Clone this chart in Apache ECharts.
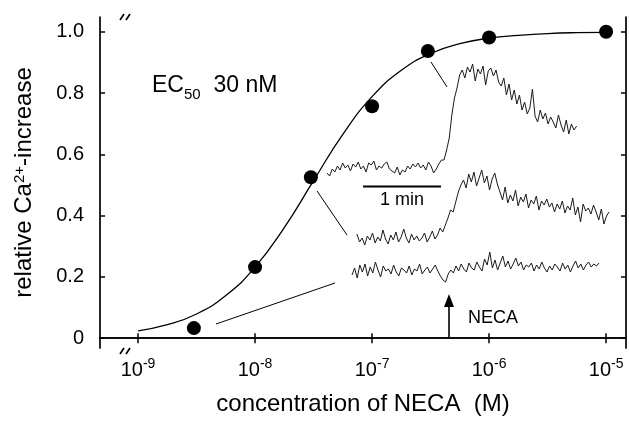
<!DOCTYPE html>
<html>
<head>
<meta charset="utf-8">
<script src="https://cdn.jsdelivr.net/npm/echarts@6/dist/echarts.min.js"></script>
<style>
  html, body { margin: 0; padding: 0; background: #fff; }
  #chart { width: 629px; height: 421px; }
</style>
</head>
<body>
<div id="chart"></div>
<script>
// dose-response points (M, relative Ca2+ increase)
const doseConc = [3e-9, 1e-8, 3e-8, 1e-7, 3e-7, 1e-6, 1e-5];
const doseResp = [0.033, 0.232, 0.525, 0.757, 0.937, 0.981, 1.0];

// fitted curve (log10 M, response)
const fitLogConc = [-9, -8.75, -8.5, -8.25, -8, -7.75, -7.5, -7.25, -7, -6.75, -6.5, -6.25, -6, -5.75, -5.5, -5.25, -5];
const fitResp = [0.024, 0.044, 0.079, 0.139, 0.232, 0.361, 0.514, 0.665, 0.788, 0.874, 0.929, 0.961, 0.979, 0.988, 0.994, 0.997, 0.998];

const xTickExps = [-9, -8, -7, -6, -5];
const yTicks = [0, 0.2, 0.4, 0.6, 0.8, 1.0];

// inset Ca2+ traces (fluorescence, a.u.), one sample every 2 s
const traceStep = 2;
const trace1Start = 20.8;
const trace1 = [127,124,131,128,134,130,137,132,135,129,136,133,138,131,134,128,137,135,139,130,
  134,132,136,138,131,129,127,133,125,130,128,134,131,136,133,137,132,135,130,138,134,127,131,136,140,
  140,150,162,185,202,212,225,
  230,222,233,228,236,219,231,226,234,215,229,232,224,230,218,
  214,222,205,216,200,210,196,205,190,198,186,192,211,184,178,190,181,187,176,183,178,172,185,175,168,180,166,176,170,174];
const trace2Start = 43.8;
const trace2 = [66,58,62,55,64,60,67,57,63,59,70,61,56,65,60,68,58,63,71,62,57,66,60,64,59,62,67,58,63,69,61,65,72,68,
  75,82,90,88,98,108,
  115,120,112,126,118,128,114,122,130,117,124,110,121,127,116,
  108,100,113,97,105,99,110,94,103,98,106,92,100,96,104,90,99,95,101,93,97,88,96,91,99,87,94,90,102,85,93,78,96,89,92,86,95,88,80,91,76,84,88];
const trace3Start = 40;
const trace3 = [25,32,22,35,28,36,24,33,27,38,30,23,34,29,31,26,35,28,24,32,30,27,34,25,31,29,36,26,30,33,27,31,35,29,24,
  20,18,26,
  30,27,34,29,36,31,28,37,32,30,38,33,29,41,35,
  48,32,40,30,37,44,33,39,31,36,42,34,38,30,35,
  33,37,29,35,31,38,32,28,34,30,36,33,29,37,31,35,28,34,39,32,36,30,35,38,33,36,34,37];
const scaleBarSeconds = 60;

const FONT = '"Liberation Sans", Arial, Helvetica, sans-serif';

function traceData(start, vals) {
  return vals.map((v, i) => [start + i * traceStep, v]);
}

const chart = echarts.init(document.getElementById('chart'), null, { renderer: 'canvas' });

const axisLineStyle = { color: '#000', width: 1.7 };
const tickStyle = { inside: true, length: 5, lineStyle: { color: '#000', width: 1.5 } };

const supRich = {
  b: { fontFamily: FONT, fontSize: 20, color: '#000', lineHeight: 23, padding: [3, 0, 0, 0], verticalAlign: 'bottom' },
  s: { fontFamily: FONT, fontSize: 14, color: '#000', lineHeight: 15, verticalAlign: 'top' }
};

const option = {
  backgroundColor: '#fff',
  animation: false,
  grid: [
    { left: 100, top: 17, width: 526, height: 334, show: false },
    { left: 300, top: 40, width: 325, height: 260, show: false }
  ],
  xAxis: [
    {
      gridIndex: 0, type: 'value', position: 'bottom',
      min: -9.325, max: -4.83,
      axisLine: { lineStyle: axisLineStyle },
      axisTick: Object.assign({ customValues: xTickExps }, tickStyle),
      axisLabel: {
        customValues: xTickExps, margin: 9,
        formatter: v => '{b|10}{s|' + v + '}',
        rich: supRich
      },
      splitLine: { show: false },
      name: 'concentration of NECA  (M)',
      nameLocation: 'middle', nameGap: 44,
      nameTextStyle: { fontFamily: FONT, fontSize: 24, color: '#000' }
    },
    {
      gridIndex: 0, type: 'value', position: 'top',
      min: -9.325, max: -4.83,
      axisLine: { lineStyle: axisLineStyle },
      axisTick: Object.assign({ customValues: xTickExps }, tickStyle),
      axisLabel: { show: false },
      splitLine: { show: false }
    },
    { gridIndex: 1, type: 'value', min: 0, max: 250, show: false }
  ],
  yAxis: [
    {
      gridIndex: 0, type: 'value', position: 'left',
      min: -0.032, max: 1.048,
      axisLine: { lineStyle: axisLineStyle },
      axisTick: Object.assign({ customValues: yTicks }, tickStyle),
      axisLabel: {
        customValues: yTicks, margin: 16,
        fontFamily: FONT, fontSize: 20, color: '#000',
        formatter: v => (v === 0 ? '0' : v.toFixed(1))
      },
      splitLine: { show: false },
      name: 'relative Ca{s|2+}-increase',
      nameLocation: 'middle', nameGap: 64, nameRotate: 90,
      nameTextStyle: {
        fontFamily: FONT, fontSize: 24, color: '#000',
        rich: {
          s: { fontFamily: FONT, fontSize: 15, color: '#000', lineHeight: 16, verticalAlign: 'top' }
        }
      }
    },
    {
      gridIndex: 0, type: 'value', position: 'right',
      min: -0.032, max: 1.048,
      axisLine: { lineStyle: axisLineStyle },
      axisTick: Object.assign({ customValues: yTicks }, tickStyle),
      axisLabel: { show: false },
      splitLine: { show: false }
    },
    { gridIndex: 1, type: 'value', min: 0, max: 260, show: false }
  ],
  series: [
    {
      name: 'fit', type: 'line', xAxisIndex: 0, yAxisIndex: 0,
      data: fitLogConc.map((x, i) => [x, fitResp[i]]),
      smooth: true, showSymbol: false,
      lineStyle: { color: '#000', width: 1.3 }, z: 2
    },
    {
      name: 'data', type: 'scatter', xAxisIndex: 0, yAxisIndex: 0,
      data: doseConc.map((c, i) => [Math.log10(c), doseResp[i]]),
      symbol: 'circle', symbolSize: 14,
      itemStyle: { color: '#000', opacity: 1 }, z: 3
    },
    ...[[trace1Start, trace1], [trace2Start, trace2], [trace3Start, trace3]].map(([s, vals]) => ({
      type: 'line', xAxisIndex: 2, yAxisIndex: 2,
      data: traceData(s, vals),
      showSymbol: false, smooth: false,
      lineStyle: { color: '#1a1a1a', width: 1 }
    }))
  ]
};

chart.setOption(option);

// annotations: connectors, scale bar, arrow, axis breaks, EC50 label
const barStart = chart.convertToPixel({ xAxisIndex: 2, yAxisIndex: 2 }, [48.5, 113.5]);
const barEnd = chart.convertToPixel({ xAxisIndex: 2, yAxisIndex: 2 }, [48.5 + scaleBarSeconds, 113.5]);

function seg(x1, y1, x2, y2, w) {
  return { type: 'line', shape: { x1, y1, x2, y2 }, style: { stroke: '#000', lineWidth: w || 1 }, z: 10 };
}
function breakMark(y) {
  return [
    { type: 'rect', shape: { x: 123, y: y - 3, width: 5, height: 6 }, style: { fill: '#fff' } },
    seg(120, y + 3, 124, y - 3, 1.7),
    seg(126, y + 3, 130, y - 3, 1.7)
  ].map(e => Object.assign(e, { z: 20 }));
}

chart.setOption({
  graphic: [
    seg(431, 62, 447, 87),
    seg(317, 191, 347, 235),
    seg(216, 324, 335, 283),
    seg(barStart[0], barStart[1], barEnd[0], barEnd[1], 2),
    {
      type: 'text', x: (barStart[0] + barEnd[0]) / 2, y: barStart[1] + 14,
      style: { text: '1 min', font: '18px ' + FONT, fill: '#000', align: 'center', verticalAlign: 'middle' }
    },
    seg(449, 337, 449, 303, 1.6),
    { type: 'polygon', shape: { points: [[449, 294], [444, 307], [454, 307]] }, style: { fill: '#000' }, z: 10 },
    {
      type: 'text', x: 468, y: 318,
      style: { text: 'NECA', font: '18px ' + FONT, fill: '#000', align: 'left', verticalAlign: 'middle' }
    },
    {
      type: 'text', x: 152, y: 88,
      style: {
        text: '{a|EC}{b|50}{a|  30 nM}', align: 'left', verticalAlign: 'middle',
        rich: {
          a: { font: '23px ' + FONT, fill: '#000', lineHeight: 28, verticalAlign: 'top' },
          b: { font: '15px ' + FONT, fill: '#000', lineHeight: 16, padding: [13, 0, 0, 0], verticalAlign: 'bottom' }
        }
      }
    },
    ...breakMark(17),
    ...breakMark(351)
  ]
});
</script>
</body>
</html>
